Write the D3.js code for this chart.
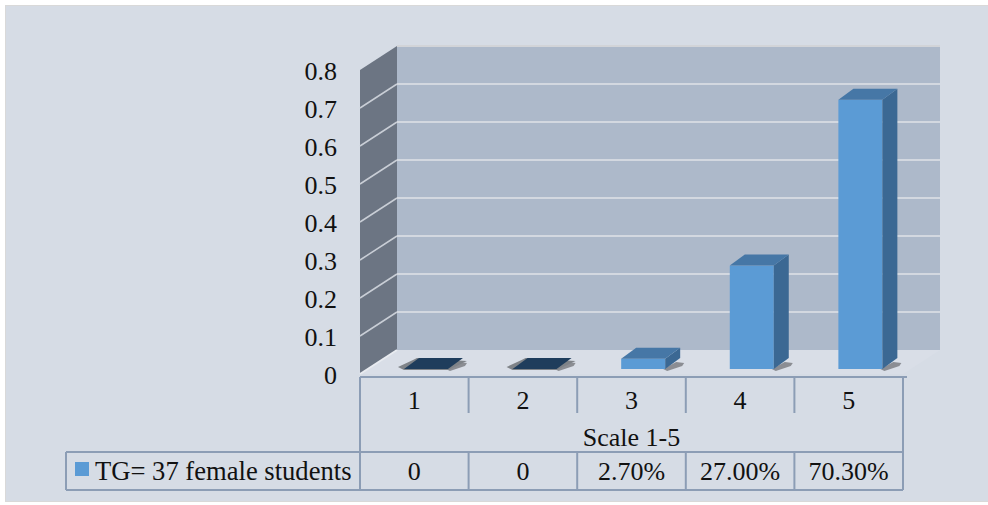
<!DOCTYPE html>
<html>
<head>
<meta charset="utf-8">
<script src="https://cdn.jsdelivr.net/npm/d3@7"></script>
<style>
  html, body { margin: 0; padding: 0; background: #ffffff; }
  svg { display: block; }
</style>
</head>
<body>
<svg id="chart" width="988" height="505"></svg>
<script>
// Response scale categories and the share of students choosing each
const categories = ["1", "2", "3", "4", "5"];
const values = [0, 0, 0.027, 0.27, 0.703];
const valueLabels = ["0", "0", "2.70%", "27.00%", "70.30%"];
const yTicks = [0, 0.1, 0.2, 0.3, 0.4, 0.5, 0.6, 0.7, 0.8];
const yTickLabels = ["0", "0.1", "0.2", "0.3", "0.4", "0.5", "0.6", "0.7", "0.8"];
const seriesName = "TG= 37 female students";
const axisTitle = "Scale 1-5";

const svg = d3.select("#chart");
const FONT = 26;
const FAMILY = "'Liberation Serif', 'Times New Roman', 'DejaVu Serif', serif";

function label(sel) {
  return sel.attr("font-family", FAMILY).attr("font-size", FONT).attr("fill", "#111111");
}

// Chart area background
svg.append("rect")
  .attr("x", 5.5).attr("y", 5.5).attr("width", 990).attr("height", 496)
  .attr("fill", "#d6dce5").attr("stroke", "#d9d9d9").attr("stroke-width", 1);

// Plot geometry (oblique 3D projection)
const plotLeft = 360, plotRight = 903;
const depthX = 37, depthY = -24;

const x = d3.scaleBand().domain(categories).range([plotLeft, plotRight]).padding(0);
const yFront = d3.scaleLinear().domain([0, 0.8]).range([374, 70]);
const yBack = d3.scaleLinear().domain([0, 0.8]).range([yFront(0) + depthY, yFront(0.8) + depthY]);
const yBar = d3.scaleLinear().domain([0, 0.8]).range([369, 369 - 0.8 * 383]);

const line = d3.line();

// Floor
svg.append("path")
  .attr("d", line([
    [plotLeft, yFront(0)], [plotLeft + depthX, yBack(0)],
    [plotRight + depthX, yBack(0)], [plotRight, yFront(0)]
  ]) + "Z")
  .attr("fill", "#d9dee7");

// Side wall
svg.append("path")
  .attr("d", line([
    [plotLeft, yFront(0)], [plotLeft, yFront(0.8)],
    [plotLeft + depthX, yBack(0.8)], [plotLeft + depthX, yBack(0)]
  ]) + "Z")
  .attr("fill", "#6c7583");

// Back wall
svg.append("rect")
  .attr("x", plotLeft + depthX).attr("y", yBack(0.8))
  .attr("width", plotRight - plotLeft)
  .attr("height", yBack(0) - yBack(0.8))
  .attr("fill", "#adb9ca");

// Gridlines on the back wall and the side wall
const gridTicks = yTicks.filter(t => t > 0);
svg.selectAll("line.grid-back").data(gridTicks).join("line")
  .attr("class", "grid-back")
  .attr("x1", plotLeft + depthX).attr("x2", plotRight + depthX)
  .attr("y1", d => yBack(d)).attr("y2", d => yBack(d))
  .attr("stroke", d => d === 0.8 ? "#d2d4d8" : "#d3d8e0").attr("stroke-width", 2);
svg.selectAll("line.grid-side").data(gridTicks.filter(t => t < 0.8)).join("line")
  .attr("class", "grid-side")
  .attr("x1", plotLeft).attr("x2", plotLeft + depthX)
  .attr("y1", d => yFront(d)).attr("y2", d => yBack(d))
  .attr("stroke", "#c9ced6").attr("stroke-width", 1.5);
// Floor/side wall seam
svg.append("line")
  .attr("x1", plotLeft).attr("y1", yFront(0))
  .attr("x2", plotLeft + depthX).attr("y2", yBack(0))
  .attr("stroke", "#e8ebf0").attr("stroke-width", 2);

// Y tick labels
svg.selectAll("text.ytick").data(yTicks).join("text")
  .attr("class", "ytick")
  .attr("x", 337).attr("y", d => yFront(d) + 1)
  .attr("dy", "0.35em")
  .attr("text-anchor", "end")
  .call(label)
  .text((d, i) => yTickLabels[i]);

// Bars
const barDX = 15, barDY = -11;
const bars = categories.map((c, i) => {
  const bw = x.bandwidth();
  const left = x(c) + bw * 0.405;
  const width = bw * 0.405;
  return { c, v: values[i], left, right: left + width, top: yBar(values[i]), bottom: yBar(0) };
});

const barG = svg.append("g");
bars.forEach(b => {
  const g = barG.append("g");
  // soft shadow at the base
  g.append("path")
    .attr("d", line([
      [b.right - 2, b.bottom], [b.right + barDX - 4, b.bottom + barDY + 4],
      [b.right + barDX + 4, b.bottom + barDY + 5], [b.right + barDX + 2, b.bottom + barDY + 8],
      [b.right + 2, b.bottom + 2]
    ]) + "Z")
    .attr("fill", "#7d7f84").attr("opacity", 0.85);
  if (b.v === 0) {
    // flat slab for zero values
    g.append("path")
      .attr("d", line([
        [b.left - 6, b.bottom - 2], [b.left, b.bottom + 1], [b.right, b.bottom + 1],
        [b.right + barDX + 4, b.bottom + barDY + 3], [b.left + barDX - 2, b.bottom + barDY],
        [b.left + barDX - 6, b.bottom + barDY + 2]
      ]) + "Z")
      .attr("fill", "#7f8388");
    g.append("path")
      .attr("d", line([
        [b.left, b.bottom], [b.right, b.bottom],
        [b.right + barDX, b.bottom + barDY], [b.left + barDX, b.bottom + barDY]
      ]) + "Z")
      .attr("fill", "#1f3d5c");
    return;
  }
  // front face
  g.append("rect")
    .attr("x", b.left).attr("y", b.top)
    .attr("width", b.right - b.left).attr("height", b.bottom - b.top)
    .attr("fill", "#5b9bd5");
  // side face
  g.append("path")
    .attr("d", line([
      [b.right, b.bottom], [b.right, b.top],
      [b.right + barDX, b.top + barDY], [b.right + barDX, b.bottom + barDY]
    ]) + "Z")
    .attr("fill", "#3b6893");
  // top face
  g.append("path")
    .attr("d", line([
      [b.left, b.top], [b.right, b.top],
      [b.right + barDX, b.top + barDY], [b.left + barDX, b.top + barDY]
    ]) + "Z")
    .attr("fill", "#4677a6");
});

// Data table
const tableTop = 377, catRowBottom = 413, titleRowBottom = 452, tableBottom = 490;
const legendLeft = 66;
const tableStroke = "#8c9db5";
const tg = svg.append("g").attr("stroke", tableStroke).attr("stroke-width", 2);

tg.append("line").attr("x1", plotLeft).attr("x2", plotRight + 4)
  .attr("y1", tableTop).attr("y2", tableTop);
const inner = categories.slice(1).map(c => x(c));
tg.selectAll("line.cat-sep").data(inner).join("line")
  .attr("class", "cat-sep")
  .attr("x1", d => d).attr("x2", d => d)
  .attr("y1", tableTop).attr("y2", catRowBottom);
tg.append("line").attr("x1", plotLeft).attr("x2", plotLeft)
  .attr("y1", tableTop).attr("y2", tableBottom);
tg.append("line").attr("x1", plotRight).attr("x2", plotRight)
  .attr("y1", tableTop).attr("y2", tableBottom);
tg.append("line").attr("x1", legendLeft).attr("x2", plotRight)
  .attr("y1", titleRowBottom).attr("y2", titleRowBottom);
tg.append("line").attr("x1", legendLeft).attr("x2", plotRight)
  .attr("y1", tableBottom).attr("y2", tableBottom);
tg.append("line").attr("x1", legendLeft).attr("x2", legendLeft)
  .attr("y1", titleRowBottom).attr("y2", tableBottom);
tg.selectAll("line.val-sep").data(inner).join("line")
  .attr("class", "val-sep")
  .attr("x1", d => d).attr("x2", d => d)
  .attr("y1", titleRowBottom).attr("y2", tableBottom);

// Category labels
svg.selectAll("text.cat").data(categories).join("text")
  .attr("class", "cat")
  .attr("x", d => x(d) + x.bandwidth() / 2)
  .attr("y", 400).attr("dy", "0.35em")
  .attr("text-anchor", "middle")
  .call(label)
  .text(d => d);

// Axis title
svg.append("text")
  .attr("x", (plotLeft + plotRight) / 2).attr("y", 437).attr("dy", "0.35em")
  .attr("text-anchor", "middle")
  .call(label)
  .text(axisTitle);

// Value row
svg.selectAll("text.val").data(categories).join("text")
  .attr("class", "val")
  .attr("x", d => x(d) + x.bandwidth() / 2)
  .attr("y", 471).attr("dy", "0.35em")
  .attr("text-anchor", "middle")
  .call(label)
  .text((d, i) => valueLabels[i]);

// Legend key and series name
svg.append("rect")
  .attr("x", 75).attr("y", 462).attr("width", 14).attr("height", 14)
  .attr("fill", "#5b9bd5");
svg.append("text")
  .attr("x", 95).attr("y", 471).attr("dy", "0.35em")
  .call(label)
  .attr("font-size", 26.6)
  .text(seriesName);
</script>
</body>
</html>
